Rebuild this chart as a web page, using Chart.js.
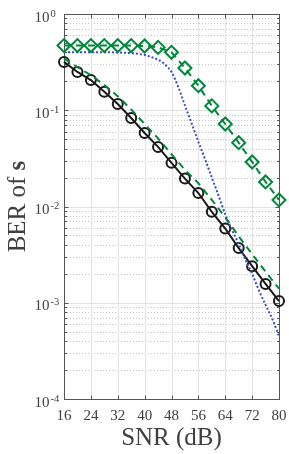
<!DOCTYPE html>
<html>
<head>
<meta charset="utf-8">
<script src="https://cdn.jsdelivr.net/npm/chart.js@4.4.0/dist/chart.umd.min.js"></script>
<style>
  html, body { margin: 0; padding: 0; background: #fff; }
  #wrap { width: 289px; height: 454px; }
</style>
</head>
<body>
<div id="wrap"><canvas id="c" width="289" height="454"></canvas></div>
<script>
// values
const snr = [16, 20, 24, 28, 32, 36, 40, 44, 48, 52, 56, 60, 64, 68, 72, 76, 80]
const berCircle = [0.318, 0.25, 0.206, 0.156, 0.116, 0.083, 0.058, 0.0416, 0.0284, 0.0195, 0.0138, 0.0088, 0.0059, 0.0037, 0.0024, 0.00157, 0.00104]
const berDashed = [0.345, 0.28, 0.232, 0.183, 0.14, 0.102, 0.072, 0.051, 0.035, 0.024, 0.0175, 0.0117, 0.0077, 0.0049, 0.0032, 0.0021, 0.0014]
const berDiamond = [0.47, 0.47, 0.47, 0.47, 0.47, 0.47, 0.465, 0.45, 0.40, 0.275, 0.18, 0.111, 0.072, 0.046, 0.029, 0.018, 0.0117]
const snrDotted = [16, 20, 24, 28, 32, 36, 40, 42, 44, 46, 48, 50, 52, 54, 56, 58, 60, 62, 64, 66, 68, 70, 72, 74, 76, 78, 80]
const berDotted = [0.40, 0.40, 0.40, 0.40, 0.398, 0.392, 0.375, 0.357, 0.335, 0.30, 0.25, 0.175, 0.112, 0.073, 0.047, 0.031, 0.020, 0.013, 0.0083, 0.0057, 0.0041, 0.0028, 0.0020, 0.00135, 0.00095, 0.00068, 0.00045]

const xTicks = [16, 24, 32, 40, 48, 56, 64, 72, 80]
const yDecades = [1e-4, 1e-3, 1e-2, 1e-1, 1]
const yExponents = ['-4', '-3', '-2', '-1', '0']

const GREEN = '#00873c'
const BLUE = '#3c50b4'
const BLACK = '#1a1a1a'
const TEXT = '#404040'
const SERIF = '"Liberation Serif", "Times New Roman", serif'

const pts = (xs, ys) => xs.map((x, i) => ({x: x, y: ys[i]}))

// grid, box and ticks drawn MATLAB style
const axesPlugin = {
  id: 'axesPlugin',
  beforeDatasetsDraw(chart) {
    const {ctx, chartArea: a, scales: {x, y}} = chart
    ctx.save()
    ctx.lineWidth = 1
    // minor horizontal dotted grid
    ctx.strokeStyle = '#c4c4c4'
    ctx.setLineDash([1, 2])
    for (let d = 0; d < yDecades.length - 1; d++) {
      for (let k = 2; k <= 9; k++) {
        const py = Math.round(y.getPixelForValue(k * yDecades[d])) + 0.5
        ctx.beginPath(); ctx.moveTo(a.left, py); ctx.lineTo(a.right, py); ctx.stroke()
      }
    }
    ctx.setLineDash([])
    // major grid
    ctx.strokeStyle = '#e2e2e2'
    yDecades.forEach(v => {
      const py = Math.round(y.getPixelForValue(v)) + 0.5
      ctx.beginPath(); ctx.moveTo(a.left, py); ctx.lineTo(a.right, py); ctx.stroke()
    })
    xTicks.forEach(v => {
      const px = Math.round(x.getPixelForValue(v)) + 0.5
      ctx.beginPath(); ctx.moveTo(px, a.top); ctx.lineTo(px, a.bottom); ctx.stroke()
    })
    // box
    ctx.strokeStyle = '#555'
    ctx.strokeRect(Math.round(a.left) + 0.5, Math.round(a.top) + 0.5, Math.round(a.right - a.left), Math.round(a.bottom - a.top))
    // ticks
    const L = Math.round(a.left) + 0.5, R = Math.round(a.right) + 0.5
    const T = Math.round(a.top) + 0.5, B = Math.round(a.bottom) + 0.5
    ctx.beginPath()
    xTicks.forEach(v => {
      const px = Math.round(x.getPixelForValue(v)) + 0.5
      ctx.moveTo(px, B); ctx.lineTo(px, B - 4)
      ctx.moveTo(px, T); ctx.lineTo(px, T + 4)
    })
    for (let d = 0; d < yDecades.length; d++) {
      const py = Math.round(y.getPixelForValue(yDecades[d])) + 0.5
      ctx.moveTo(L, py); ctx.lineTo(L + 4, py)
      ctx.moveTo(R, py); ctx.lineTo(R - 4, py)
      if (d < yDecades.length - 1) {
        for (let k = 2; k <= 9; k++) {
          const q = Math.round(y.getPixelForValue(k * yDecades[d])) + 0.5
          ctx.moveTo(L, q); ctx.lineTo(L + 2.5, q)
          ctx.moveTo(R, q); ctx.lineTo(R - 2.5, q)
        }
      }
    }
    ctx.stroke()
    ctx.restore()
  },
  afterDraw(chart) {
    const {ctx, chartArea: a, scales: {y}} = chart
    ctx.save()
    ctx.fillStyle = TEXT
    ctx.textBaseline = 'alphabetic'
    yDecades.forEach((v, i) => {
      const py = y.getPixelForValue(v)
      ctx.font = '15px ' + SERIF
      ctx.textAlign = 'right'
      ctx.fillText('10', 49.5, py + 7.5)
      ctx.font = '10.5px ' + SERIF
      ctx.textAlign = 'left'
      ctx.fillText(yExponents[i], 50.5, py + 2.5)
    })
    // y title with bold s
    const cy = (a.top + a.bottom) / 2
    ctx.translate(25, cy)
    ctx.rotate(-Math.PI / 2)
    ctx.font = '25px ' + SERIF
    const w1 = ctx.measureText('BER of ').width
    ctx.font = 'bold 25px ' + SERIF
    const w2 = ctx.measureText('s').width
    const x0 = -(w1 + w2) / 2
    ctx.textAlign = 'left'
    ctx.font = '25px ' + SERIF
    ctx.fillText('BER of ', x0, 0)
    ctx.font = 'bold 25px ' + SERIF
    ctx.fillText('s', x0 + w1, 0)
    ctx.restore()
  }
}

new Chart(document.getElementById('c'), {
  type: 'line',
  data: {
    datasets: [
      {
        data: pts(snr, berDiamond),
        borderColor: GREEN,
        borderWidth: 2,
        borderDash: [7, 5],
        pointStyle: 'rectRot',
        pointRadius: 6.5,
        pointBorderWidth: 2,
        pointBorderColor: GREEN,
        pointBackgroundColor: 'rgba(0,0,0,0)',
        clip: false
      },
      {
        data: pts(snrDotted, berDotted),
        borderColor: BLUE,
        borderWidth: 2,
        borderDash: [2, 2],
        pointRadius: 0,
        cubicInterpolationMode: 'monotone',
        clip: false
      },
      {
        data: pts(snr, berDashed),
        borderColor: GREEN,
        borderWidth: 2,
        borderDash: [7, 5],
        pointRadius: 0,
        clip: false
      },
      {
        data: pts(snr, berCircle),
        borderColor: BLACK,
        borderWidth: 2,
        pointStyle: 'circle',
        pointRadius: 5,
        pointBorderWidth: 2,
        pointBorderColor: BLACK,
        pointBackgroundColor: 'rgba(0,0,0,0)',
        clip: false
      }
    ]
  },
  options: {
    responsive: false,
    animation: false,
    devicePixelRatio: 1,
    layout: {padding: {top: 14, right: 10, left: 0, bottom: 0}},
    plugins: {legend: {display: false}, tooltip: {enabled: false}},
    scales: {
      x: {
        type: 'linear',
        min: 16,
        max: 80,
        afterBuildTicks: s => { s.ticks = xTicks.map(v => ({value: v})) },
        afterFit: s => { s.height = 55 },
        grid: {display: false},
        border: {display: false},
        ticks: {font: {family: SERIF, size: 15}, color: TEXT, padding: 0, maxRotation: 0, autoSkip: false},
        title: {display: true, text: 'SNR (dB)', font: {family: SERIF, size: 25}, color: TEXT, padding: {top: 0, bottom: 1}}
      },
      y: {
        type: 'logarithmic',
        min: 1e-4,
        max: 1,
        afterFit: s => { s.width = 64 },
        grid: {display: false},
        border: {display: false},
        ticks: {display: false}
      }
    }
  },
  plugins: [axesPlugin]
})
</script>
</body>
</html>
